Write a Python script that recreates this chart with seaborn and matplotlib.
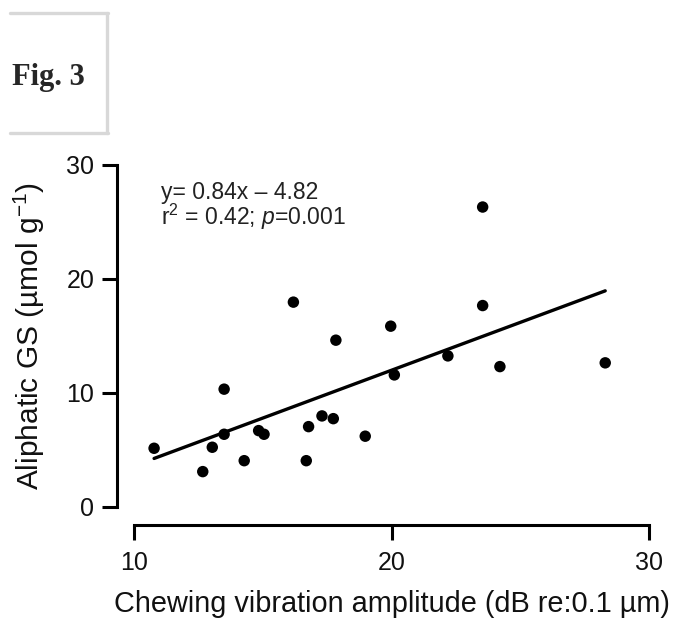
import matplotlib
matplotlib.use("Agg")
import matplotlib.pyplot as plt
from matplotlib.lines import Line2D
import numpy as np
import pandas as pd
import seaborn as sns

# ---- data ----
amplitude = [10.78, 12.67, 13.04, 13.50, 13.50, 14.28, 14.84, 15.05, 16.19, 16.69,
             16.78, 17.30, 17.74, 17.84, 18.98, 19.97, 20.11, 22.19, 23.54, 23.54,
             24.21, 28.30]
aliphatic_gs = [5.13, 3.08, 5.22, 10.32, 6.36, 4.04, 6.68, 6.36, 17.96, 4.04,
                7.03, 7.97, 7.73, 14.62, 6.19, 15.85, 11.57, 13.24, 26.31, 17.66,
                12.30, 12.63]
slope = 0.84
intercept = -4.82
x_ticks = [10, 20, 30]
y_ticks = [0, 10, 20, 30]
eq_line = "y= 0.84x \u2013 4.82"
stat_line = "r$^2$ = 0.42; $p$=0.001"

df = pd.DataFrame({"amp": amplitude, "gs": aliphatic_gs})
xs = np.array([min(amplitude), max(amplitude)])
fit = pd.DataFrame({"amp": xs, "gs": slope * xs + intercept})

sns.set_style("white")
plt.rcParams["font.family"] = ["Liberation Sans", "DejaVu Sans"]
plt.rcParams["mathtext.fontset"] = "custom"
plt.rcParams["mathtext.rm"] = "Liberation Sans"
plt.rcParams["mathtext.it"] = "Liberation Sans:italic"

W, H = 677, 623
fig = plt.figure(figsize=(W / 100, H / 100), dpi=100)
ax = fig.add_axes([134 / W, 1 - 506.7 / H, (649 - 134) / W, (506.7 - 165) / H])

sns.lineplot(data=fit, x="amp", y="gs", ax=ax, color="black", linewidth=2.4)
sns.scatterplot(data=df, x="amp", y="gs", ax=ax, color="black", s=68,
                edgecolor="none", zorder=3)

ax.set_xlim(10, 30)
ax.set_ylim(0, 30)
ax.set_xticks(x_ticks)
ax.set_yticks(y_ticks)
ax.tick_params(axis="both", direction="out", length=11, width=2.2,
               labelsize=18, color="black", labelcolor="#111111",
               left=True, bottom=True)
ax.tick_params(axis="x", pad=8)
ax.tick_params(axis="y", pad=5)
for s in ["left", "bottom"]:
    ax.spines[s].set_linewidth(2.2)
    ax.spines[s].set_color("black")
sns.despine(ax=ax, offset={"left": 12.5, "bottom": 13}, trim=True)

ax.set_xlabel("Chewing vibration amplitude (dB re:0.1 µm)", fontsize=20.8,
              labelpad=11, color="#111111")
ax.set_ylabel("Aliphatic GS (µmol g$^{-1}$)", fontsize=21.5, labelpad=14,
              color="#111111")

ax.text(11.03, 27.05, eq_line, fontsize=16.5, va="baseline", ha="left",
        color="#222222")
ax.text(11.03, 24.75, stat_line, fontsize=16.5, va="baseline", ha="left",
        color="#222222")

# figure label box
fig.text(12 / W, 1 - 85 / H, "Fig. 3", fontsize=22, fontweight="bold",
         family="Liberation Serif", ha="left", va="baseline")
col = "#d8d8d8"
fig.add_artist(Line2D([10 / W, 108 / W], [1 - 13 / H, 1 - 13 / H],
                      color=col, lw=2.4, transform=fig.transFigure))
fig.add_artist(Line2D([10 / W, 108 / W], [1 - 133 / H, 1 - 133 / H],
                      color=col, lw=2.4, transform=fig.transFigure))
fig.add_artist(Line2D([107 / W, 107 / W], [1 - 13 / H, 1 - 133 / H],
                      color=col, lw=2.4, transform=fig.transFigure))

fig.savefig("out.png", dpi=100)
